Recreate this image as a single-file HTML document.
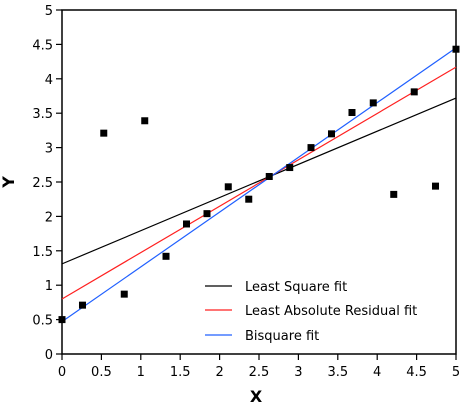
<!DOCTYPE html>
<html><head><meta charset="utf-8"><style>
body{margin:0;background:#fff;}
svg text{font-family:"DejaVu Sans","Liberation Sans",sans-serif;font-size:13px;fill:#000;}
</style></head><body>
<svg id="chart" width="467" height="407" xmlns="http://www.w3.org/2000/svg">
<rect x="62" y="10" width="394" height="344" fill="#fff" stroke="#000" stroke-width="1.5"/>
<g id="ticks"></g>
<g id="lines"></g>
<g id="points"></g>
<text x="256" y="402" text-anchor="middle" font-weight="bold" style="font-size:16px">X</text>
<text x="14" y="182" text-anchor="middle" font-weight="bold" style="font-size:16px" transform="rotate(-90 14 182)">Y</text>
<g>
<line x1="205" y1="286" x2="232" y2="286" stroke="#000" stroke-width="1.2"/>
<text x="245" y="291">Least Square fit</text>
<line x1="205" y1="310" x2="232" y2="310" stroke="#ff2020" stroke-width="1.2"/>
<text x="245" y="315">Least Absolute Residual fit</text>
<line x1="205" y1="335" x2="232" y2="335" stroke="#2060ff" stroke-width="1.2"/>
<text x="245" y="340">Bisquare fit</text>
</g>
</svg>
<script>
const xData=[0,0.26,0.53,0.79,1.05,1.32,1.58,1.84,2.11,2.37,2.63,2.89,3.16,3.42,3.68,3.95,4.21,4.47,4.74,5];
const yData=[0.5,0.71,3.21,0.87,3.39,1.42,1.89,2.04,2.43,2.25,2.58,2.71,3.0,3.2,3.51,3.65,2.32,3.81,2.44,4.43];
const fitNames=["least-square","least-absolute-residual","bisquare"];
const fitColors=["#000","#ff2020","#2060ff"];
const fitStart=[1.31,0.8,0.47];
const fitEnd=[3.72,4.17,4.45];
const tickVals=[0,0.5,1,1.5,2,2.5,3,3.5,4,4.5,5];
const tickLabels=["0","0.5","1","1.5","2","2.5","3","3.5","4","4.5","5"];
const NS="http://www.w3.org/2000/svg";
function sx(v){return 62+v*78.8;}
function sy(v){return 354-v*68.8;}
function mk(t,a,p){const e=document.createElementNS(NS,t);for(const k in a)e.setAttribute(k,a[k]);p.appendChild(e);return e;}
const tg=document.getElementById('ticks');
tickVals.forEach((v,i)=>{
 let l=mk('line',{x1:sx(v),y1:354,x2:sx(v),y2:360,stroke:'#000','stroke-width':1.2},tg);
 
 
 let t=mk('text',{x:sx(v),y:376,'text-anchor':'middle'},tg);t.textContent=tickLabels[i];
 
 
 let l2=mk('line',{x1:56,y1:sy(v),x2:62,y2:sy(v),stroke:'#000','stroke-width':1.2},tg);
 
 
 let t2=mk('text',{x:53,y:sy(v)+5,'text-anchor':'end'},tg);t2.textContent=tickLabels[i];
 
 
});
const lg=document.getElementById('lines');
fitNames.forEach((n,i)=>{
 let l=mk('line',{x1:sx(0),y1:sy(fitStart[i]),x2:sx(5),y2:sy(fitEnd[i]),stroke:fitColors[i],'stroke-width':1.2},lg);
 
 
});
const pg=document.getElementById('points');
xData.forEach((x,i)=>{
 let r=mk('rect',{x:sx(x)-3.5,y:sy(yData[i])-3.5,width:7,height:7,fill:'#000'},pg);
 
 
});
</script>
</body></html>
